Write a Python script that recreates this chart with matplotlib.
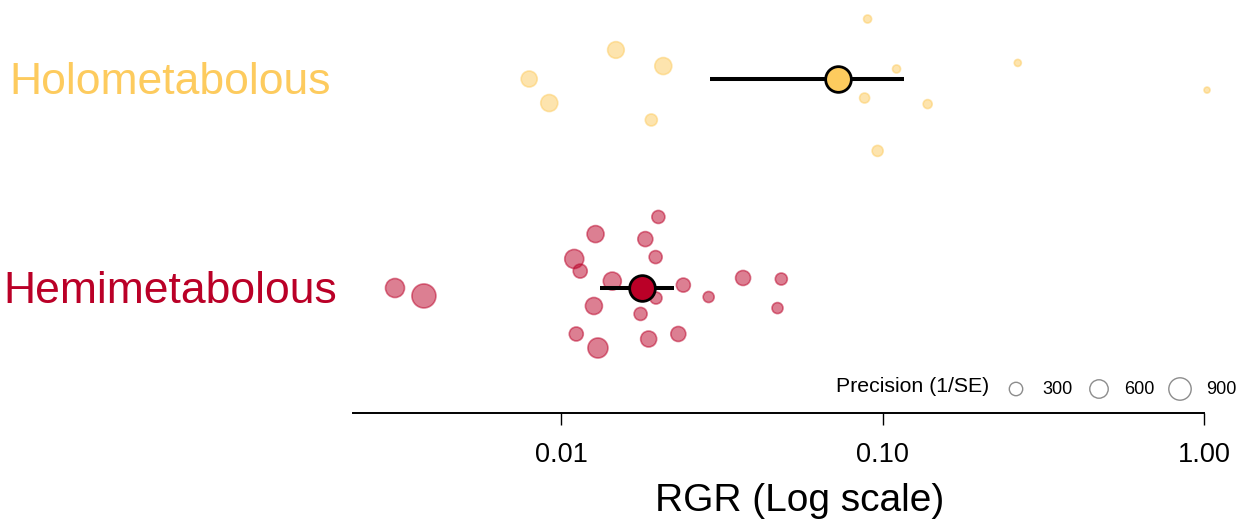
import numpy as np
import matplotlib
matplotlib.use("Agg")
import matplotlib.pyplot as plt
from matplotlib.transforms import blended_transform_factory

plt.rcParams['font.family'] = ['Liberation Sans', 'DejaVu Sans']

# groups, plotted bottom (1) to top (2)
groups = ["Hemimetabolous", "Holometabolous"]
group_colors = ["#BA0027", "#FDCB5E"]

# group means and confidence limits (RGR)
mean_rgr = [0.01787, 0.0728]
ci_low = [0.01325, 0.0290]
ci_high = [0.02245, 0.1165]

# individual studies: RGR, vertical jitter, precision (1/SE)
hemi_rgr = [0.00304, 0.00374, 0.02006, 0.01279, 0.01827, 0.01098, 0.01967,
            0.01146, 0.01442, 0.02399, 0.0368, 0.0484, 0.01972, 0.02876,
            0.01264, 0.01766, 0.0471, 0.01114, 0.02314, 0.01871, 0.01301]
hemi_jitter = [0.0, -0.038, 0.340, 0.258, 0.234, 0.139, 0.148, 0.081, 0.033,
               0.014, 0.048, 0.043, -0.048, -0.043, -0.086, -0.124, -0.096,
               -0.220, -0.220, -0.244, -0.287]
hemi_prec = [639, 1040, 281, 504, 385, 639, 281, 331, 570, 331, 385, 234,
             234, 191, 504, 281, 191, 331, 385, 443, 712]

holo_rgr = [0.0898, 0.01480, 0.02078, 0.00795, 0.00918, 0.01907, 0.1105,
            0.0879, 0.1381, 0.0965, 0.2634, 1.022]
holo_jitter = [0.287, 0.139, 0.062, 0.0, -0.115, -0.196, 0.048, -0.091,
               -0.120, -0.344, 0.077, -0.053]
holo_prec = [85, 480, 504, 443, 504, 234, 85, 152, 116, 191, 57, 32]

legend_prec = [300, 600, 900]


def prec_to_size(p):
    # marker area in pt^2 (area grows linearly with precision)
    r_px2 = 4.65 + 0.134 * np.asarray(p, dtype=float)
    return 4 * r_px2 * (0.72 ** 2)


W, H = 1237, 523
fig = plt.figure(figsize=(W / 100, H / 100), dpi=100)
ax = fig.add_axes([353 / W, (H - 413) / H, (1204 - 353) / W, 413 / H])

studies = [(hemi_rgr, hemi_jitter, hemi_prec), (holo_rgr, holo_jitter, holo_prec)]
for i, (rgr, jit, prec) in enumerate(studies):
    ypos = i + 1 + np.array(jit)
    ax.scatter(rgr, ypos, s=prec_to_size(prec), color=group_colors[i],
               alpha=0.5, linewidths=1.2, edgecolors=group_colors[i],
               clip_on=False, zorder=2)

for i in range(len(groups)):
    ax.plot([ci_low[i], ci_high[i]], [i + 1, i + 1], color="black", lw=2.9,
            solid_capstyle="butt", zorder=3)
    ax.plot(mean_rgr[i], i + 1, marker="o", markersize=18.5,
            markerfacecolor=group_colors[i], markeredgecolor="black",
            markeredgewidth=2, zorder=4, clip_on=False)

ax.set_xscale("log")
ax.set_xlim(0.00225, 1.0)
ax.set_ylim(0.402, 2.378)
ax.set_xticks([0.01, 0.1, 1.0])
ax.set_xticklabels(["0.01", "0.10", "1.00"])
ax.xaxis.set_minor_locator(matplotlib.ticker.NullLocator())
ax.tick_params(axis="x", length=8.6, width=1.0, labelsize=19.5, pad=12)
ax.set_yticks([])
for side in ["top", "right", "left"]:
    ax.spines[side].set_visible(False)
ax.spines["bottom"].set_linewidth(1.4)

# x axis title, centred a little right of the axis middle
fig.text(800 / W, (H - 501) / H, "RGR (Log scale)", ha="center",
         va="center", fontsize=28)

# group labels on the left
tr = blended_transform_factory(fig.transFigure, ax.transData)
for i, name in enumerate(groups):
    ax.text(170 / W, i + 1 - 0.017, name, transform=tr, ha="center",
            va="center", fontsize=32, color=group_colors[i])

# precision size legend
fig.text(913 / W, (H - 387) / H, "Precision (1/SE)", ha="center", va="center",
         fontsize=15.3)
leg_x = [1016, 1099, 1180]
leg_tx = [1057, 1139, 1221]
for p, cx, tx in zip(legend_prec, leg_x, leg_tx):
    ax.scatter([cx / W], [(H - 389) / H], s=prec_to_size([p]),
               facecolors="none", edgecolors="#8c8c8c", linewidths=1.0,
               transform=fig.transFigure, clip_on=False)
    fig.text(tx / W, (H - 389) / H, str(p), ha="center", va="center",
             fontsize=13)

fig.savefig("out.png", dpi=100)
